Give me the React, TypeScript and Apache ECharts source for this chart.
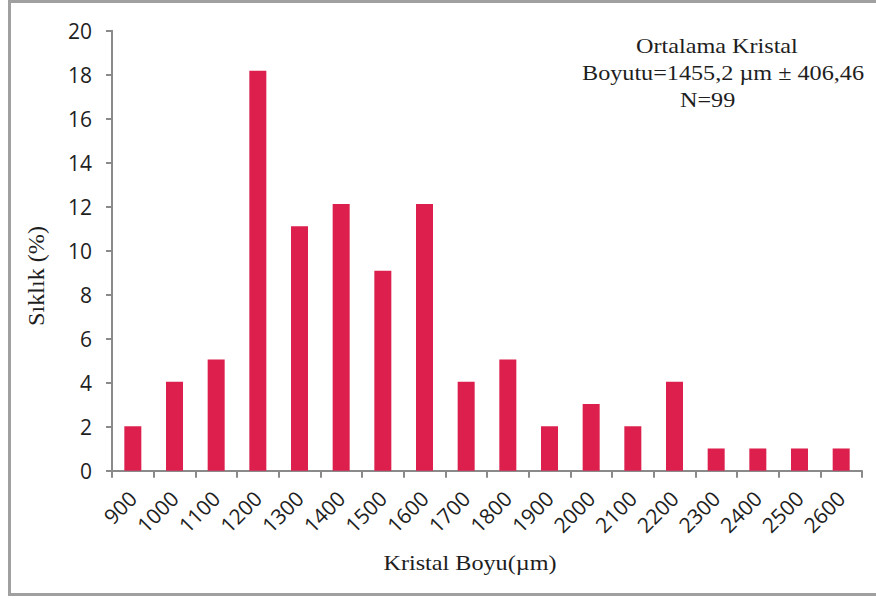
import React, { useEffect, useRef } from "react";
import * as echarts from "echarts";

const categories = ["900","1000","1100","1200","1300","1400","1500","1600","1700","1800","1900","2000","2100","2200","2300","2400","2500","2600"];
const frequencies = [2.02, 4.04, 5.05, 18.18, 11.11, 12.12, 9.09, 12.12, 4.04, 5.05, 2.02, 3.03, 2.02, 4.04, 1.01, 1.01, 1.01, 1.01];
const annotationLines = ["Ortalama Kristal", "Boyutu=1455,2 µm ± 406,46", "N=99"];
const xAxisTitle = "Kristal Boyu(µm)";
const yAxisTitle = "Sıklık (%)";

export default function App() {
  const ref = useRef<HTMLDivElement>(null);
  useEffect(() => {
    if (!ref.current) return;
    const chart = echarts.init(ref.current, null, { renderer: "svg" });
    const serif = "'Liberation Serif', 'Times New Roman', serif";
    const sans = "'Open Sans', 'Noto Sans', sans-serif";
    chart.setOption({
      animation: false,
      backgroundColor: "#ffffff",
      grid: { left: 112, right: 14, top: 30.7, bottom: 128.3, containLabel: false },
      xAxis: {
        type: "category",
        data: categories,
        axisLine: { lineStyle: { color: "#8a8a8a", width: 2 } },
        axisTick: { show: true, length: 7, lineStyle: { color: "#8a8a8a", width: 2 } },
        axisLabel: { rotate: 45, margin: 24, fontSize: 21, color: "#1e1e1e", fontFamily: sans, interval: 0 },
      },
      yAxis: {
        type: "value",
        min: 0,
        max: 20,
        interval: 2,
        splitLine: { show: false },
        axisLine: { show: true, lineStyle: { color: "#8a8a8a", width: 2 } },
        axisTick: { show: true, length: 6, lineStyle: { color: "#8a8a8a", width: 2 } },
        axisLabel: { margin: 20, fontSize: 21, color: "#1e1e1e", fontFamily: sans },
      },
      series: [
        {
          type: "bar",
          data: frequencies,
          barWidth: 17,
          itemStyle: { color: "#dc1f4d" },
        },
      ],
      graphic: [
        {
          type: "rect",
          shape: { x: 9.5, y: 1.5, width: 880, height: 593 },
          style: { fill: "none", stroke: "#a0a0a0", lineWidth: 3 },
          silent: true,
        },
        {
          type: "text",
          x: 636,
          y: 45,
          scaleX: 1.1,
          style: { text: annotationLines[0], fontSize: 22, fontFamily: serif, fill: "#1e1e1e", textAlign: "left", textVerticalAlign: "middle" },
        },
        {
          type: "text",
          x: 582,
          y: 72,
          scaleX: 1.1,
          style: { text: annotationLines[1], fontSize: 22, fontFamily: serif, fill: "#1e1e1e", textAlign: "left", textVerticalAlign: "middle" },
        },
        {
          type: "text",
          x: 680,
          y: 99,
          scaleX: 1.1,
          style: { text: annotationLines[2], fontSize: 22, fontFamily: serif, fill: "#1e1e1e", textAlign: "left", textVerticalAlign: "middle" },
        },
        {
          type: "text",
          x: 470,
          y: 562,
          scaleX: 1.1,
          style: { text: xAxisTitle, fontSize: 22, fontFamily: serif, fill: "#1e1e1e", textAlign: "center", textVerticalAlign: "middle" },
        },
        {
          type: "text",
          x: 36,
          y: 276,
          rotation: Math.PI / 2,
          scaleX: 1.05,
          style: { text: yAxisTitle, fontSize: 23, fontFamily: serif, fill: "#1e1e1e", textAlign: "center", textVerticalAlign: "middle" },
        },
      ],
    });
    return () => chart.dispose();
  }, []);
  return (
    <div
      ref={ref}
      style={{ position: "fixed", left: 0, top: 0, width: 876, height: 599 }}
    />
  );
}
